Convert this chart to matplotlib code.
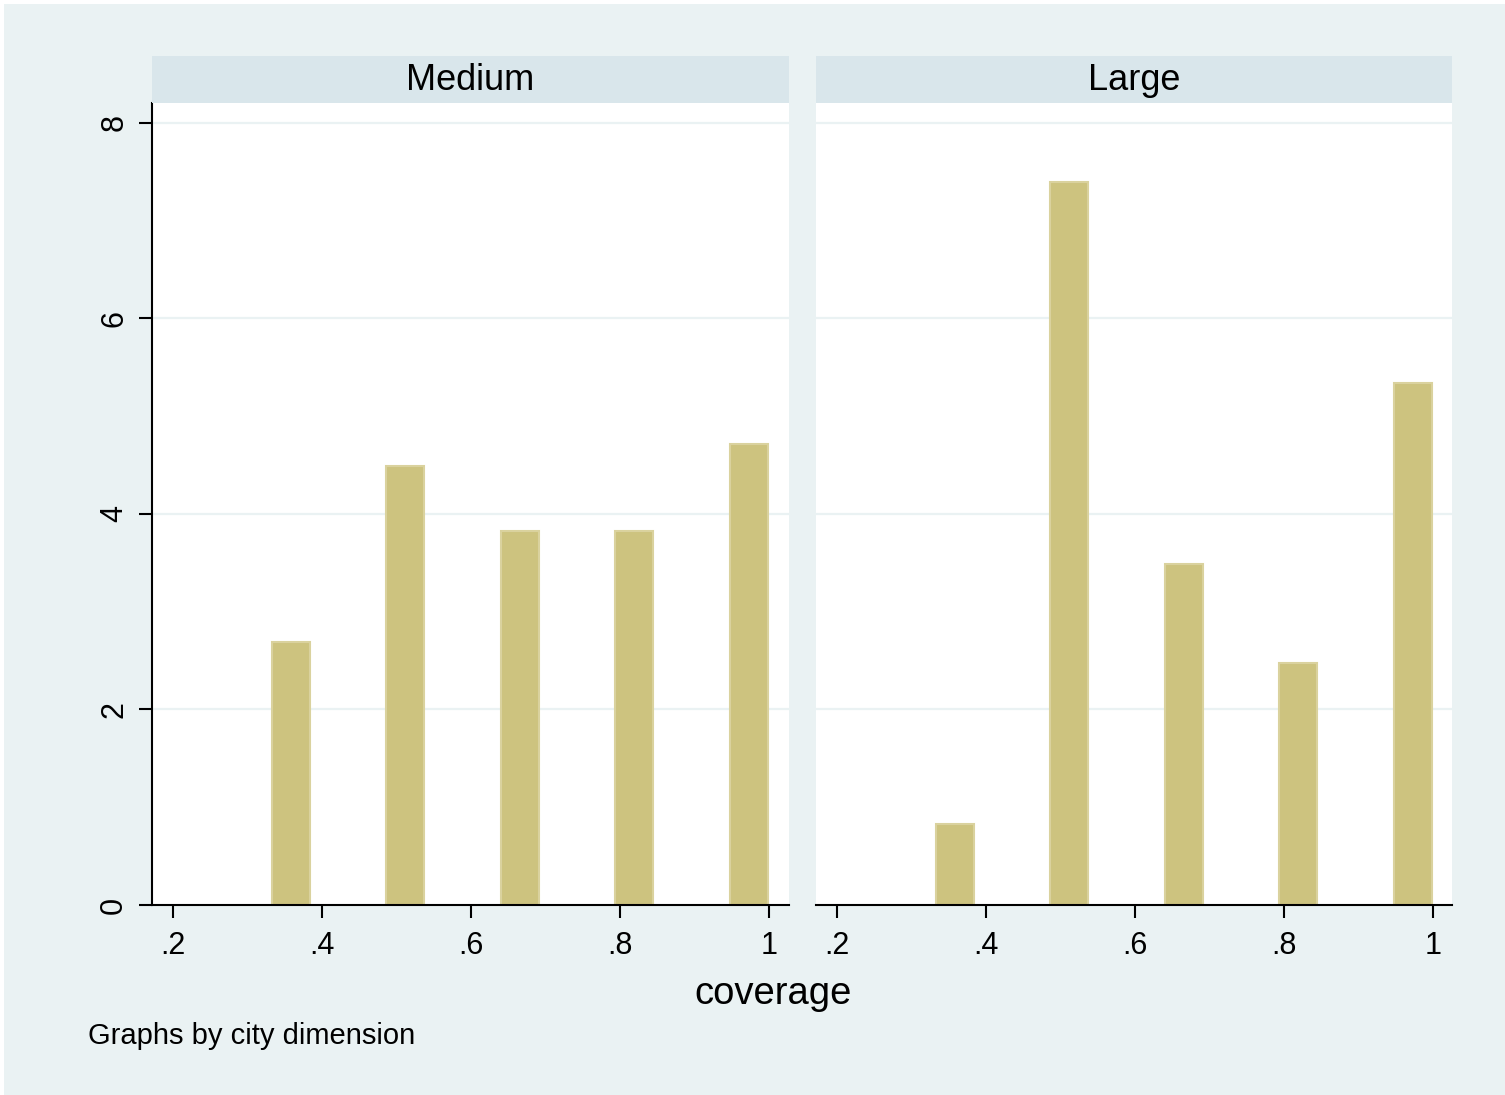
import matplotlib
matplotlib.use("Agg")
import matplotlib.pyplot as plt
from matplotlib.patches import Rectangle

plt.rcParams['font.family'] = ['Liberation Sans', 'DejaVu Sans']

panels = ["Medium", "Large"]
bin_centers = [0.358, 0.512, 0.666, 0.819, 0.973]
medium = [2.69, 4.49, 3.82, 3.82, 4.71]
large = [0.83, 7.39, 3.49, 2.47, 5.34]
xticks = [0.2, 0.4, 0.6, 0.8, 1.0]
xticklabels = [".2", ".4", ".6", ".8", "1"]
yticks = [0, 2, 4, 6, 8]
yticklabels = ["0", "2", "4", "6", "8"]

BG = "#EAF2F3"
STRIP = "#D9E6EB"
BAR = "#CDC37F"
BAR_EDGE = "#DAD29E"

W, H = 1505, 1095
fig = plt.figure(figsize=(W / 100, H / 100), dpi=100)
fig.patch.set_facecolor("white")
fig.patches.append(Rectangle((4 / W, 0), 1 - 4 / W, 1 - 4 / H, transform=fig.transFigure,
                             facecolor=BG, edgecolor="none", zorder=-10))

def fx(px):
    return px / W

def fy(py):
    return 1 - py / H

panel_x = [(152, 789), (816, 1452)]
top, bot = 103, 905
strip_top = 56

for i, (name, vals) in enumerate(zip(panels, [medium, large])):
    x0, x1 = panel_x[i]
    ax = fig.add_axes([fx(x0), fy(bot), fx(x1 - x0), (bot - top) / H])
    ax.set_facecolor("white")
    ax.set_xlim(0.1718, 0.1718 + (x1 - x0) / 745)
    ax.set_ylim(0, 8.2)
    for y in yticks[1:]:
        ax.axhline(y, color=BG, lw=1.6, zorder=0)
    ax.bar(bin_centers, vals, width=0.051, color=BAR, edgecolor=BAR_EDGE, linewidth=1.5, zorder=2)
    for s in ["top", "right"]:
        ax.spines[s].set_visible(False)
    ax.spines["bottom"].set_linewidth(1.5)
    ax.spines["left"].set_linewidth(1.5)
    ax.set_xticks(xticks)
    ax.set_xticklabels(xticklabels, fontsize=22)
    ax.tick_params(axis="x", length=9.4, width=1.5, pad=9)
    if i == 0:
        ax.set_yticks(yticks)
        ax.set_yticklabels(yticklabels, fontsize=22, rotation=90, va="center")
        ax.tick_params(axis="y", length=9.4, width=1.5, pad=7)
    else:
        ax.spines["left"].set_visible(False)
        ax.set_yticks([])
    # strip
    sax = fig.add_axes([fx(x0), fy(top), fx(x1 - x0), (top - strip_top) / H])
    sax.set_facecolor(STRIP)
    sax.set_xticks([])
    sax.set_yticks([])
    for s in sax.spines.values():
        s.set_visible(False)
    sax.text(0.5, 0.47, name, ha="center", va="center", fontsize=26, transform=sax.transAxes)

fig.text(fx(773), fy(994), "coverage", ha="center", va="center", fontsize=27.5)
fig.text(fx(88), fy(1036), "Graphs by city dimension", ha="left", va="center", fontsize=21)

fig.savefig("out.png", dpi=100, facecolor=fig.get_facecolor())
